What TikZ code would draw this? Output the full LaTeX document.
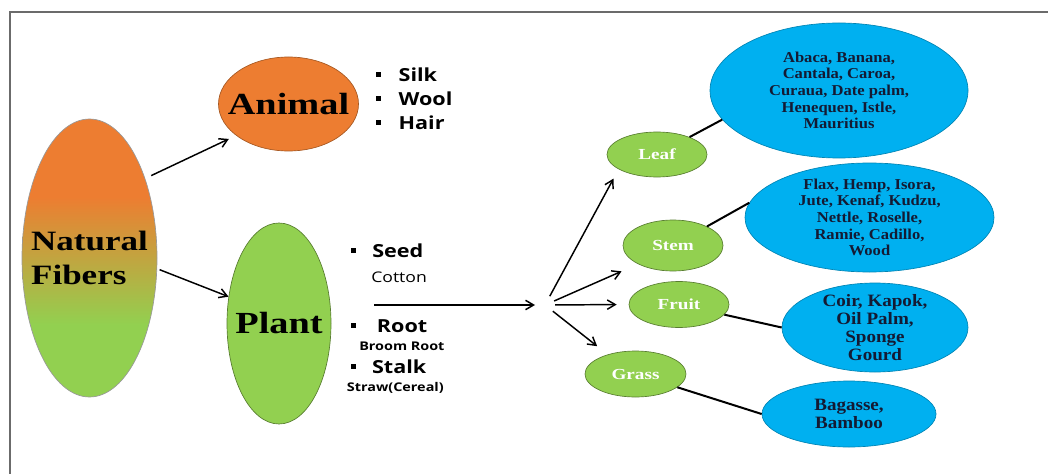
\documentclass[tikz,border=0pt]{standalone}
\usepackage{fontspec}
\usetikzlibrary{shapes.geometric, arrows.meta}
\newfontfamily\tnr[FakeStretch=1.25]{Liberation Serif}
\newfontfamily\tnrlist[FakeStretch=1.1]{Liberation Serif}
\newfontfamily\osans[FakeStretch=1.2]{Open Sans}
\definecolor{kindorange}{HTML}{ED7D31}
\definecolor{partgreen}{HTML}{92D050}
\definecolor{fibreblue}{HTML}{00B0F0}
\definecolor{fibreink}{HTML}{141A33}
\definecolor{framegray}{HTML}{6B6B6B}
\pgfdeclareverticalshading{natshade}{100bp}{color(0bp)=(partgreen); color(38bp)=(partgreen); color(61bp)=(kindorange); color(100bp)=(kindorange)}
\newcommand\sqb[1]{\rule[3.4pt]{3.75pt}{3.75pt}\hspace{#1}}
\tikzset{
    oval/.style={draw, ellipse, inner sep=0pt, line width=0.5pt},
    kindoval/.style={oval, fill=kindorange, draw=kindorange!70!black},
    plantoval/.style={oval, fill=partgreen, draw=partgreen!60!black},
    partoval/.style={plantoval, minimum width=75pt, font=\tnr\bfseries\fontsize{11.5pt}{13pt}\selectfont, text=white},
    fibreoval/.style={oval, fill=fibreblue, draw=fibreblue!75!black},
    bigname/.style={font=\tnr\bfseries\fontsize{23pt}{26pt}\selectfont},
    natname/.style={font=\tnr\bfseries\fontsize{21pt}{25pt}\selectfont, align=left},
    fibrelist/.style={font=\tnrlist\bfseries\fontsize{11.3pt}{12.5pt}\selectfont, text=fibreink, align=center},
    fibrelistbig/.style={fibrelist, font=\tnrlist\bfseries\fontsize{13pt}{13.7pt}\selectfont},
    listitem/.style={anchor=base west, inner sep=0pt, font=\osans\bfseries\fontsize{13.5pt}{16pt}\selectfont},
    subitem/.style={anchor=base west, inner sep=0pt, font=\osans\bfseries\fontsize{9pt}{11pt}\selectfont},
    fibrelink/.style={line width=1.5pt},
    flow/.style={->, line width=1.1pt}
}
\begin{document}
\begin{tikzpicture}[x=0.75pt, y=-0.75pt, >={Straight Barb[length=6pt, width=7pt]}]
  \useasboundingbox(0,0)rectangle(1048,474);
  \draw[framegray, line width=1.1pt](1048,12)--(10,12)--(10,474);
  % main kinds
  \node(nat)[oval, draw=gray!80, shade, shading=natshade, minimum width=101.25pt, minimum height=208.5pt,
    label={[natname]center:{Natural\\Fibers}}] at (89.5,258){};
  \node(animal)[kindoval, minimum width=105pt, minimum height=70.5pt,
    label={[bigname]center:Animal}] at (288.5,104){};
  \node(plant)[plantoval, minimum width=78pt, minimum height=150.75pt,
    label={[bigname]center:Plant}] at (279,323.5){};
  % plant parts
  \node(leaf)[partoval, minimum height=33.75pt] at (657,154.5){Leaf};
  \node(stem)[partoval, minimum height=38.25pt] at (673,245.5){Stem};
  \node(fruit)[partoval, minimum height=34.5pt] at (679,304.5){Fruit};
  \node(grass)[partoval, minimum width=75.75pt, minimum height=34.5pt] at (635.5,374){Grass};
  % fibres
  \node(leafb)[fibreoval, minimum width=193.5pt, minimum height=101.25pt,
    label={[fibrelist]center:{Abaca, Banana,\\Cantala, Caroa,\\Curaua, Date palm,\\Henequen, Istle,\\Mauritius}}] at (839,90.5){};
  \node(stemb)[fibreoval, minimum width=186.75pt, minimum height=81.75pt,
    label={[fibrelist]center:{Flax, Hemp, Isora,\\Jute, Kenaf, Kudzu,\\Nettle, Roselle,\\Ramie, Cadillo,\\Wood}}] at (869.5,217.5){};
  \node(fruitb)[fibreoval, minimum width=139.5pt, minimum height=66.75pt,
    label={[fibrelistbig]center:{Coir, Kapok,\\Oil Palm,\\Sponge\\Gourd}}] at (875,327.5){};
  \node(grassb)[fibreoval, minimum width=130.5pt, minimum height=49.5pt,
    label={[fibrelistbig]center:{Bagasse,\\Bamboo}}] at (849,414){};
  % lists
  \node(silk)[listitem] at (376,81.5){\sqb{13pt}Silk};
  \node(wool)[listitem] at (376,105.5){\sqb{13pt}Wool};
  \node(hair)[listitem] at (376,129.5){\sqb{13pt}Hair};
  \node(seed)[listitem] at (351,257.3){\sqb{12pt}Seed};
  \node(cotton)[subitem, font=\osans\fontsize{11pt}{13pt}\selectfont] at (371,282.3){Cotton};
  \node(root)[listitem] at (351,332.3){\sqb{15.5pt}Root};
  \node(broom)[subitem] at (359,350.7){Broom Root};
  \node(stalk)[listitem] at (351,373.3){\sqb{11.8pt}Stalk};
  \node(straw)[subitem] at (346.7,391.5){Straw(Cereal)};
  % arrows
  \coordinate(trunk) at (374,305);
  \coordinate(hub) at (545,305);
  \draw[flow, shorten <=5pt, shorten >=6pt](nat.55)--(animal.211);
  \draw[flow, shorten <=2pt](nat.-9)--(plant.152);
  \draw[flow, shorten >=7.5pt](trunk)--(hub);
  \draw[flow, shorten <=7.5pt, shorten >=8pt](hub)--(leaf.201);
  \draw[flow, shorten <=7.5pt, shorten >=13.5pt](hub)--(stem.208);
  \draw[flow, shorten <=7.5pt, shorten >=9pt](hub)--(fruit.west);
  \draw[flow, shorten <=7.5pt, shorten >=10pt](hub)--(grass.145);
  \draw[fibrelink](leaf)--(leafb.194);
  \draw[fibrelink](stem)--(stemb.173);
  \draw[fibrelink](fruit)--(fruitb.west);
  \draw[fibrelink](grass)--(grassb.west);
\end{tikzpicture}
\end{document}
